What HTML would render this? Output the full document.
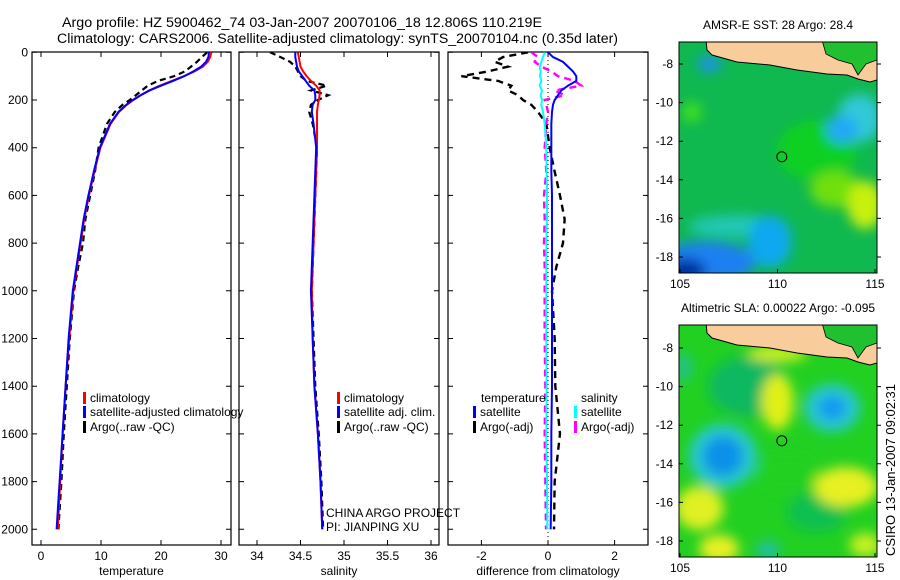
<!DOCTYPE html>
<html><head><meta charset="utf-8"><style>
html,body{margin:0;padding:0;background:#fff;}
svg{display:block;font-family:"Liberation Sans",sans-serif;}
</style></head><body>
<svg id="fig" width="900" height="580" viewBox="0 0 900 580">
<defs>
<filter id="blur6" x="-50%" y="-50%" width="200%" height="200%"><feGaussianBlur stdDeviation="6"/></filter>
<clipPath id="clipM1"><rect x="679" y="42" width="198" height="231"/></clipPath>
<clipPath id="clipM2"><rect x="679" y="325" width="198" height="232"/></clipPath>
<clipPath id="clipP1"><rect x="32" y="52" width="199" height="493"/></clipPath>
<clipPath id="clipP2"><rect x="239" y="52" width="200" height="493"/></clipPath>
<clipPath id="clipP3"><rect x="448" y="52" width="200" height="493"/></clipPath>
</defs>
<text x="62" y="27" font-size="13.5" textLength="480" lengthAdjust="spacingAndGlyphs">Argo profile: HZ 5900462_74 03-Jan-2007 20070106_18 12.806S 110.219E</text>
<text x="57" y="43" font-size="13.5" textLength="561" lengthAdjust="spacingAndGlyphs">Climatology: CARS2006. Satellite-adjusted climatology: synTS_20070104.nc (0.35d later)</text>
<g id="g1"></g>
<g id="g2"></g>
<g id="g3"></g>
<g id="m1"></g>
<g id="m2"></g>
<text transform="translate(895,470) rotate(-90)" font-size="13" text-anchor="middle">CSIRO 13-Jan-2007 09:02:31</text>
</svg>
<script>
// depth levels (m)
const depths = [0,20,40,60,80,100,120,140,160,180,200,220,250,300,400,500,600,700,800,900,1000,1200,1400,1600,1800,2000];
// temperature (degC)
const tempClim = [28.4,28.2,27.8,27.0,25.6,23.8,21.8,19.8,18.0,16.6,15.4,14.3,13.0,11.6,9.9,8.9,8.0,7.2,6.6,6.0,5.4,4.7,4.1,3.6,3.2,2.8];
const tempSat  = [28.0,27.9,27.5,26.7,25.4,23.9,22.0,20.0,18.1,16.6,15.3,14.2,12.9,11.5,9.8,8.8,7.9,7.1,6.5,5.9,5.3,4.6,4.1,3.6,3.1,2.6];
const tempArgo = [27.7,26.8,26.0,25.0,24.0,22.2,19.5,17.8,16.8,15.8,14.8,13.6,12.3,11.0,9.6,9.0,8.2,7.4,7.0,6.2,5.5,4.8,4.3,3.8,3.4,2.9];
// salinity (psu)
const salClim = [34.47,34.48,34.49,34.50,34.53,34.57,34.62,34.68,34.72,34.72,34.71,34.70,34.69,34.69,34.69,34.68,34.67,34.66,34.65,34.64,34.63,34.64,34.66,34.70,34.73,34.75];
const salSat  = [34.44,34.44,34.45,34.46,34.48,34.52,34.56,34.60,34.66,34.67,34.67,34.64,34.63,34.65,34.68,34.67,34.66,34.65,34.64,34.63,34.62,34.64,34.66,34.70,34.73,34.75];
const salArgo = [34.15,34.27,34.38,34.44,34.47,34.50,34.57,34.80,34.62,34.82,34.70,34.62,34.60,34.64,34.69,34.68,34.67,34.66,34.65,34.64,34.63,34.65,34.67,34.71,34.74,34.76];
// differences from climatology
const dTempSat  = [0.0,0.15,0.45,0.6,0.75,0.85,0.85,0.6,0.4,0.3,0.2,0.15,0.12,0.1,0.1,0.1,0.12,0.12,0.12,0.12,0.12,0.12,0.12,0.1,0.1,0.08];
const dTempArgo = [-0.6,-1.35,-1.6,-1.2,-1.8,-2.6,-1.5,-1.1,-1.2,-0.9,-0.75,-0.5,-0.3,-0.05,0.05,0.2,0.36,0.5,0.45,0.25,0.12,0.2,0.22,0.36,0.2,0.18];
const dSalSat   = [-0.1,-0.15,-0.2,-0.25,-0.22,-0.24,-0.2,-0.25,-0.18,-0.22,-0.18,-0.2,-0.15,-0.1,-0.05,-0.04,-0.03,-0.03,-0.05,-0.05,-0.05,-0.05,-0.04,-0.05,-0.03,-0.02];
const dSalArgo  = [-0.5,-0.3,-0.4,-0.2,0.1,0.3,0.8,1.0,0.2,0.5,-0.1,-0.05,0.0,-0.05,-0.1,-0.05,-0.12,-0.1,-0.12,-0.1,-0.1,-0.1,-0.08,-0.1,-0.08,-0.06];
const depthTicks = [0,200,400,600,800,1000,1200,1400,1600,1800,2000];
const tempTicks = [0,10,20,30];
const salTicks = [34,34.5,35,35.5,36];
const salTickLabels = ["34","34.5","35","35.5","36"];
const diffTicks = [-2,0,2];
const lonTicks = [105,110,115];
const latTicks = [-8,-10,-12,-14,-16,-18];

const NS="http://www.w3.org/2000/svg";
function mk(parent,tag,attrs,text){const e=document.createElementNS(NS,tag);for(const k in attrs)e.setAttribute(k,attrs[k]);if(text!==undefined)e.textContent=text;parent.appendChild(e);return e;}
const yD = d => 52.3 + d*0.2385;
const PT = 545, PTOP = 52;

function panel(g, x0, x1, xs, ticks, labels, xlabel){
  const f=mk(g,'rect',{x:x0,y:PTOP,width:x1-x0,height:PT-PTOP,fill:'none',stroke:'#000','stroke-width':1.2});
  
  
  ticks.forEach((t,i)=>{const x=xs(t);
    const a=mk(g,'path',{d:`M${x},${PT}v-5M${x},${PTOP}v5`,stroke:'#000','stroke-width':1});
    
    
    const l=mk(g,'text',{x:x,y:PT+15,'font-size':12,'text-anchor':'middle'},labels[i]);
    
    
  });
  depthTicks.forEach(d=>{const y=yD(d);
    const a=mk(g,'path',{d:`M${x0},${y}h5M${x1},${y}h-5`,stroke:'#000','stroke-width':1});
    
    
  });
  const xl=mk(g,'text',{x:(x0+x1)/2,y:PT+30,'font-size':12,'text-anchor':'middle'},xlabel);
  
  
}
function line(g,vals,xs,color,dash,w,name,clip){
  const p=mk(g,'polyline',{points:vals.map((v,i)=>xs(v)+','+yD(depths[i])).join(' '),fill:'none',stroke:color,'stroke-width':w,'stroke-dasharray':dash||'none','clip-path':`url(#${clip})`});
  
  
}
function legend(g,x,y,color,label,name){
  const b=mk(g,'rect',{x:x,y:y-10,width:3,height:12,fill:color});
  
  
  const t=mk(g,'text',{x:x+7,y:y,'font-size':12},label);
  
  
}
const g1=document.getElementById('g1');
depthTicks.forEach(d=>{const t=mk(g1,'text',{x:28,y:yD(d)+4,'font-size':12,'text-anchor':'end'},String(d));
  
  });

const xT = v => 41 + v*6;
panel(g1,32,231,xT,tempTicks,tempTicks.map(String),'temperature');
line(g1,tempArgo,xT,'#000','6,4',2.2,'argo-temperature-line','clipP1');
line(g1,tempClim,xT,'#f00',null,2,'climatology-temperature-line','clipP1');
line(g1,tempSat,xT,'#00f',null,2,'satellite-temperature-line','clipP1');
legend(g1,83,402,'#f00','climatology','legend-climatology');
legend(g1,83,416,'#00f','satellite-adjusted climatology','legend-satellite');
legend(g1,83,431,'#000','Argo(..raw -QC)','legend-argo');

const g2=document.getElementById('g2');
const xS = v => 257 + (v-34)*87;
panel(g2,239,439,xS,salTicks,salTickLabels,'salinity');
line(g2,salArgo,xS,'#000','6,4',2.2,'argo-salinity-line','clipP2');
line(g2,salClim,xS,'#f00',null,2,'climatology-salinity-line','clipP2');
line(g2,salSat,xS,'#00f',null,2,'satellite-salinity-line','clipP2');
legend(g2,337,402,'#f00','climatology','legend-climatology');
legend(g2,337,416,'#00f','satellite adj. clim.','legend-satellite');
legend(g2,337,431,'#000','Argo(..raw -QC)','legend-argo');
[['CHINA ARGO PROJECT',517],['PI: JIANPING XU',531]].forEach(([s,y])=>{const t=mk(g2,'text',{x:326,y:y,'font-size':12},s);
  
  });

const g3=document.getElementById('g3');
const xDf = v => 548 + v*33.3;
panel(g3,448,648,xDf,diffTicks,diffTicks.map(String),'difference from climatology');
const zl=mk(g3,'line',{x1:xDf(0),y1:PTOP,x2:xDf(0),y2:PT,stroke:'#000','stroke-width':1,'stroke-dasharray':'1,3'});


line(g3,dTempArgo,xDf,'#000','7,5',2.4,'argo-temperature-diff-line','clipP3');
line(g3,dSalArgo,xDf,'#f0f','7,5',2.4,'argo-salinity-diff-line','clipP3');
line(g3,dTempSat,xDf,'#00f',null,2,'satellite-temperature-diff-line','clipP3');
line(g3,dSalSat,xDf,'#0ff',null,2,'satellite-salinity-diff-line','clipP3');
[['temperature',481,402],['salinity',581,402]].forEach(([s,x,y])=>{const t=mk(g3,'text',{x:x,y:y,'font-size':12},s);
  
  });
legend(g3,473,416,'#00f','satellite','legend-temp-satellite');
legend(g3,473,431,'#000','Argo(-adj)','legend-temp-argo');
legend(g3,574,416,'#0ff','satellite','legend-sal-satellite');
legend(g3,574,431,'#f0f','Argo(-adj)','legend-sal-argo');

// maps
const lonX = lon => 680 + (lon-105)*19.5;
function map(g,top,lat8,clip,title,blobs,base,h){
  const latY = lat => lat8 + (-8-lat)*19.3;
  const c=mk(g,'g',{'clip-path':`url(#${clip})`});
  const bg=mk(c,'rect',{x:679,y:top,width:198,height:h,fill:base});
  
  
  const bl=mk(c,'g',{filter:'url(#blur6)'});
  blobs.forEach(([lon,lat,rx,ry,col])=>{mk(bl,'ellipse',{cx:lonX(lon),cy:latY(lat),rx:rx,ry:ry,fill:col});});
  const landPts=`706,${top-2} 707,${top+8} 712,${top+13} 737,${top+20} 770,${top+23} 797,${top+28} 827,${top+32} 847,${top+33} 858,${top+37} 870,${top+40} 877,${top+38} 877,${top-2}`;
  const land=mk(c,'polygon',{points:landPts,fill:'#f9cc9c',stroke:'#000','stroke-width':1});
  
  
  const gl=mk(c,'polygon',{points:`822,${top-2} 877,${top-2} 877,${top+18} 866,${top+22} 858,${top+33} 852,${top+22} 838,${top+18} 826,${top+12}`,fill:'#20c030',stroke:'#000','stroke-width':0.8});
  
  
  const circ=mk(c,'circle',{cx:lonX(110.22),cy:latY(-12.806),r:5,fill:'none',stroke:'#000','stroke-width':1});
  
  
  const fr=mk(g,'rect',{x:679,y:top,width:198,height:h,fill:'none',stroke:'#000','stroke-width':1});
  
  
  lonTicks.forEach(l=>{const x=lonX(l);
    mk(g,'path',{d:`M${x},${top+h}v-4`,stroke:'#000'});
    const t=mk(g,'text',{x:x,y:top+h+15,'font-size':12,'text-anchor':'middle'},String(l));
    
    });
  latTicks.forEach(l=>{const y=latY(l);
    mk(g,'path',{d:`M877,${y}h4M679,${y}h4`,stroke:'#000'});
    const t=mk(g,'text',{x:673,y:y+4,'font-size':12,'text-anchor':'end'},String(l));
    
    });
  const tt=mk(g,'text',{x:778,y:top-13,'font-size':12,'text-anchor':'middle'},title);
  
  
}
map(document.getElementById('m1'),42,64,'clipM1','AMSR-E SST: 28 Argo: 28.4',[
  [112,-12.5,40,30,'#10d020'],[113,-14.5,26,18,'#70e010'],[114.5,-15.3,18,24,'#c8f010'],
  [114.2,-10.8,22,24,'#30c8d8'],[113.3,-11.4,16,14,'#20a8f8'],
  [108,-16.4,50,11,'#20c8b8'],[109.6,-17.2,22,26,'#10a8f0'],[106.3,-18.3,50,22,'#1a80f0'],[105.3,-18.7,20,12,'#0030a0'],
  [105.6,-10.5,10,10,'#40e020'],[106.5,-8,12,8,'#1a90f0']
],'#10b850',231);
map(document.getElementById('m2'),325,348,'clipM2','Altimetric SLA: 0.00022 Argo: -0.095',[
  [108.5,-10,40,30,'#10b860'],[110.5,-14.5,30,20,'#20d020'],[112,-16.5,30,20,'#10c050'],
  [110,-10.8,16,28,'#e0f018'],[113.5,-15.2,32,20,'#e6f020'],[106,-16.3,24,22,'#e0f020'],[107,-18.4,20,14,'#e8f020'],
  [114.5,-18.2,16,12,'#c8f020'],[110,-8.3,30,8,'#d0f020'],
  [107.2,-13.6,34,32,'#28c8d0'],[107.2,-13.6,20,20,'#1090e8'],
  [112.8,-11.1,28,24,'#28c8d0'],[112.8,-11.1,14,12,'#1898f0'],
  [109.5,-18.5,12,10,'#20c0a0'],[105.2,-9,8,14,'#20c090']
],'#22d022',232);
</script>
</body></html>
